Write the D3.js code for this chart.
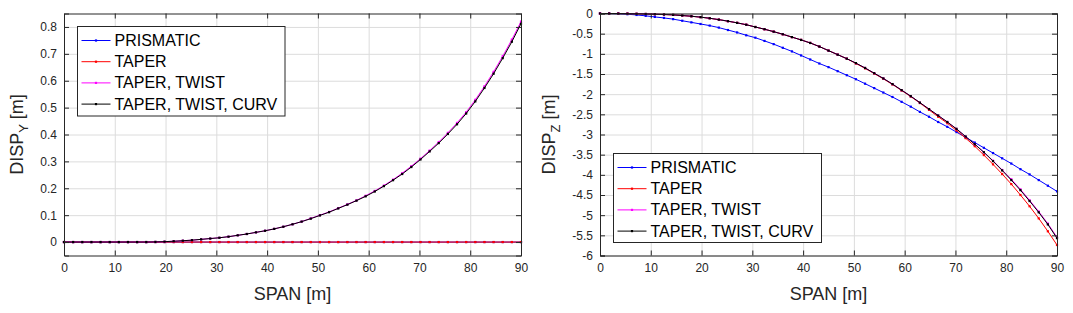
<!DOCTYPE html>
<html>
<head>
<meta charset="utf-8">
<script src="https://cdn.jsdelivr.net/npm/d3@7"></script>
<style>
  body { margin: 0; background: #fff; }
  svg { display: block; font-family: "Liberation Sans", Arial, sans-serif; }
</style>
</head>
<body>
<svg id="chart" width="1073" height="313"></svg>
<script>
// span stations [m]
const span = [0, 1.8, 3.6, 5.4, 7.2, 9, 10.8, 12.6, 14.4, 16.2, 18, 19.8, 21.6, 23.4, 25.2, 27, 28.8,
  30.6, 32.4, 34.2, 36, 37.8, 39.6, 41.4, 43.2, 45, 46.8, 48.6, 50.4, 52.2, 54, 55.8, 57.6, 59.4,
  61.2, 63, 64.8, 66.6, 68.4, 70.2, 72, 73.8, 75.6, 77.4, 79.2, 81, 82.8, 84.6, 86.4, 88.2, 90];

const seriesNames = ['PRISMATIC', 'TAPER', 'TAPER, TWIST', 'TAPER, TWIST, CURV'];
const seriesColors = ['#0000ff', '#ff0000', '#ff00ff', '#000000'];

// DISP_Y [m]
const dispYPrismatic = [0, 0, 0, 0, 0, 0, 0, 0, 0, 0, 0, 0, 0, 0, 0, 0, 0, 0, 0, 0, 0, 0, 0, 0, 0, 0,
  0, 0, 0, 0, 0, 0, 0, 0, 0, 0, 0, 0, 0, 0, 0, 0, 0, 0, 0, 0, 0, 0, 0, 0, 0];
const dispYTaper = [0, 0, 0, 0, 0, 0, 0, 0, 0, 0, 0, 0, 0, 0, 0, 0, 0, 0, 0, 0, 0, 0, 0, 0, 0, 0,
  0, 0, 0, 0, 0, 0, 0, 0, 0, 0, 0, 0, 0, 0, 0, 0, 0, 0, 0, 0, 0, 0, 0, 0, 0];
const dispYTwist = [0, 0, 0, 0, 0, 0, 0, 0, 0, 0, 0.0005, 0.0015, 0.003, 0.005, 0.007, 0.010, 0.013,
  0.016, 0.020, 0.025, 0.030, 0.036, 0.042, 0.049, 0.057, 0.066, 0.076, 0.088, 0.100, 0.112, 0.126,
  0.140, 0.155, 0.172, 0.190, 0.210, 0.232, 0.256, 0.282, 0.310, 0.340, 0.372, 0.406, 0.443, 0.483,
  0.529, 0.579, 0.633, 0.691, 0.753, 0.820];
const dispYCurv = [0, 0, 0, 0, 0, 0, 0, 0, 0, 0, 0.0005, 0.0015, 0.003, 0.005, 0.007, 0.010, 0.013,
  0.016, 0.020, 0.025, 0.030, 0.036, 0.042, 0.049, 0.057, 0.066, 0.076, 0.087, 0.099, 0.111, 0.125,
  0.139, 0.154, 0.170, 0.188, 0.208, 0.230, 0.253, 0.279, 0.307, 0.337, 0.368, 0.402, 0.438, 0.478,
  0.523, 0.573, 0.626, 0.684, 0.745, 0.812];

// DISP_Z [m]
const dispZPrismatic = [0, -0.002, -0.008, -0.018, -0.036, -0.058, -0.085, -0.11, -0.14, -0.18, -0.22,
  -0.26, -0.30, -0.35, -0.41, -0.47, -0.54, -0.60, -0.68, -0.76, -0.85, -0.94, -1.04, -1.14, -1.24,
  -1.33, -1.43, -1.53, -1.63, -1.74, -1.85, -1.96, -2.07, -2.19, -2.31, -2.44, -2.56, -2.69, -2.81,
  -2.94, -3.07, -3.20, -3.33, -3.46, -3.59, -3.72, -3.86, -3.99, -4.13, -4.27, -4.41];
const dispZTaper = [0, 0, -0.001, -0.003, -0.007, -0.012, -0.018, -0.025, -0.034, -0.05, -0.068,
  -0.09, -0.118, -0.152, -0.19, -0.232, -0.278, -0.335, -0.39, -0.45, -0.515, -0.585, -0.655, -0.73,
  -0.82, -0.92, -1.02, -1.12, -1.24, -1.36, -1.49, -1.62, -1.76, -1.91, -2.06, -2.22, -2.39, -2.56,
  -2.72, -2.90, -3.09, -3.29, -3.51, -3.74, -3.98, -4.23, -4.50, -4.78, -5.08, -5.40, -5.74];
const dispZTwist = [0, 0, -0.001, -0.003, -0.007, -0.012, -0.018, -0.025, -0.034, -0.05, -0.068,
  -0.09, -0.118, -0.152, -0.19, -0.232, -0.278, -0.335, -0.39, -0.45, -0.515, -0.585, -0.655, -0.73,
  -0.82, -0.92, -1.02, -1.12, -1.23, -1.35, -1.48, -1.61, -1.75, -1.90, -2.05, -2.21, -2.37, -2.53,
  -2.69, -2.86, -3.05, -3.24, -3.44, -3.65, -3.88, -4.11, -4.36, -4.63, -4.91, -5.21, -5.55];
const dispZCurv = [0, 0, -0.001, -0.003, -0.007, -0.012, -0.018, -0.025, -0.034, -0.05, -0.068,
  -0.09, -0.118, -0.152, -0.19, -0.232, -0.278, -0.335, -0.39, -0.45, -0.515, -0.585, -0.655, -0.73,
  -0.82, -0.92, -1.02, -1.12, -1.23, -1.35, -1.48, -1.61, -1.75, -1.90, -2.05, -2.21, -2.37, -2.53,
  -2.69, -2.86, -3.05, -3.24, -3.44, -3.66, -3.89, -4.13, -4.38, -4.65, -4.93, -5.23, -5.57];

// ticks
const xTicks = [0, 10, 20, 30, 40, 50, 60, 70, 80, 90];
const xTickLabels = ['0', '10', '20', '30', '40', '50', '60', '70', '80', '90'];
const yTicksLeft = [0, 0.1, 0.2, 0.3, 0.4, 0.5, 0.6, 0.7, 0.8];
const yTickLabelsLeft = ['0', '0.1', '0.2', '0.3', '0.4', '0.5', '0.6', '0.7', '0.8'];
const yTicksRight = [0, -0.5, -1, -1.5, -2, -2.5, -3, -3.5, -4, -4.5, -5, -5.5, -6];
const yTickLabelsRight = ['0', '-0.5', '-1', '-1.5', '-2', '-2.5', '-3', '-3.5', '-4', '-4.5', '-5', '-5.5', '-6'];

const svg = d3.select('#chart');
const axisColor = '#262626';
const gridColor = '#dcdcdc';
const ms = 2.2; // marker size

function drawPanel(p) {
  const x = d3.scaleLinear().domain([0, 90]).range([p.left, p.right]);
  const y = d3.scaleLinear().domain(p.yDomain).range([p.bottom, p.top]);
  const g = svg.append('g');

  // grid
  g.append('g')
    .attr('transform', `translate(0,${p.bottom})`)
    .call(d3.axisBottom(x).tickValues(xTicks).tickSize(-(p.bottom - p.top)).tickFormat(''))
    .call(s => s.select('.domain').remove())
    .selectAll('line').attr('stroke', gridColor);
  g.append('g')
    .attr('transform', `translate(${p.left},0)`)
    .call(d3.axisLeft(y).tickValues(p.yTicks).tickSize(-(p.right - p.left)).tickFormat(''))
    .call(s => s.select('.domain').remove())
    .selectAll('line').attr('stroke', gridColor);

  // lines + markers
  const line = d3.line().x((d, i) => x(span[i])).y(d => y(d));
  p.series.forEach((vals, k) => {
    g.append('path')
      .datum(vals)
      .attr('fill', 'none')
      .attr('stroke', seriesColors[k])
      .attr('stroke-width', 1)
      .attr('d', line);
    g.selectAll(null)
      .data(vals)
      .enter().append('rect')
      .attr('x', (d, i) => x(span[i]) - ms / 2)
      .attr('y', d => y(d) - ms / 2)
      .attr('width', ms)
      .attr('height', ms)
      .attr('fill', seriesColors[k]);
  });

  // axes with inward ticks
  const bottomAxis = g.append('g')
    .attr('transform', `translate(0,${p.bottom})`)
    .call(d3.axisBottom(x).tickValues(xTicks).tickSize(-5).tickPadding(8)
      .tickFormat((d, i) => xTickLabels[i]));
  const leftAxis = g.append('g')
    .attr('transform', `translate(${p.left},0)`)
    .call(d3.axisLeft(y).tickValues(p.yTicks).tickSize(-5).tickPadding(7)
      .tickFormat((d, i) => p.yLabels[i]));
  const topAxis = g.append('g')
    .attr('transform', `translate(0,${p.top})`)
    .call(d3.axisTop(x).tickValues(xTicks).tickSize(-5).tickFormat(''));
  const rightAxis = g.append('g')
    .attr('transform', `translate(${p.right},0)`)
    .call(d3.axisRight(y).tickValues(p.yTicks).tickSize(-5).tickFormat(''));

  [bottomAxis, leftAxis, topAxis, rightAxis].forEach(a => {
    a.select('.domain').attr('stroke', axisColor);
    a.selectAll('line').attr('stroke', axisColor);
    a.selectAll('text').attr('fill', axisColor).style('font-size', '12px')
      .style('font-family', '"Liberation Sans", Arial, sans-serif');
  });

  // axis titles
  g.append('text')
    .attr('x', (p.left + p.right) / 2)
    .attr('y', 300)
    .attr('text-anchor', 'middle')
    .attr('fill', axisColor)
    .style('font-size', '18px')
    .text('SPAN [m]');

  const yl = g.append('text')
    .attr('transform', `translate(${p.yLabelX},${(p.top + p.bottom) / 2}) rotate(-90)`)
    .attr('text-anchor', 'middle')
    .attr('fill', axisColor)
    .style('font-size', '18px');
  yl.append('tspan').text('DISP');
  yl.append('tspan').attr('dy', 5).style('font-size', '13px').text(p.sub);
  yl.append('tspan').attr('dy', -5).text(' [m]');

  // legend
  const lg = g.append('g');
  lg.append('rect')
    .attr('x', p.legend.x).attr('y', p.legend.y)
    .attr('width', p.legend.w).attr('height', p.legend.h)
    .attr('fill', '#fff').attr('stroke', axisColor).attr('stroke-width', 1);
  seriesNames.forEach((name, k) => {
    const cy = p.legend.y + 14 + k * 21.2;
    lg.append('line')
      .attr('x1', p.legend.x + 4).attr('x2', p.legend.x + 33)
      .attr('y1', cy).attr('y2', cy)
      .attr('stroke', seriesColors[k]).attr('stroke-width', 1);
    lg.append('rect')
      .attr('x', p.legend.x + 18.5 - ms / 2).attr('y', cy - ms / 2)
      .attr('width', ms).attr('height', ms)
      .attr('fill', seriesColors[k]);
    lg.append('text')
      .attr('x', p.legend.x + 37).attr('y', cy + 5.5)
      .attr('fill', '#000')
      .style('font-size', '16px')
      .text(name);
  });
}

drawPanel({
  left: 64, right: 521, top: 13.5, bottom: 255.5,
  yDomain: [-0.05, 0.85], yTicks: yTicksLeft, yLabels: yTickLabelsLeft,
  series: [dispYPrismatic, dispYTaper, dispYTwist, dispYCurv],
  sub: 'Y', yLabelX: 23,
  legend: { x: 77.5, y: 26.5, w: 207.5, h: 89.5 }
});

drawPanel({
  left: 600, right: 1057, top: 13.5, bottom: 255.5,
  yDomain: [-6, 0], yTicks: yTicksRight, yLabels: yTickLabelsRight,
  series: [dispZPrismatic, dispZTaper, dispZTwist, dispZCurv],
  sub: 'Z', yLabelX: 555,
  legend: { x: 613.5, y: 153.5, w: 208, h: 89 }
});
</script>
</body>
</html>
